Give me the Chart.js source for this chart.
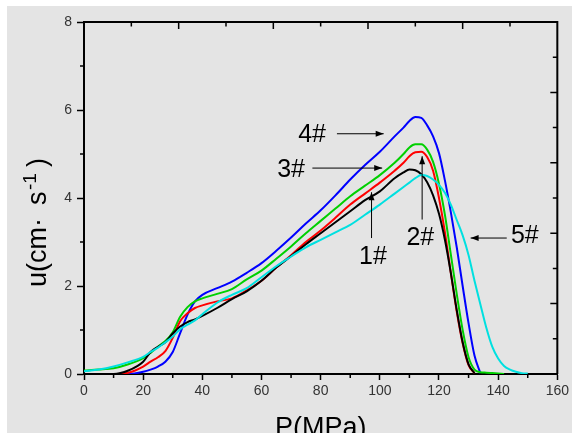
<!DOCTYPE html>
<html>
<head>
<meta charset="utf-8">
<script src="https://cdn.jsdelivr.net/npm/chart.js@4"></script>
<style>
  html, body { margin: 0; padding: 0; background: #fff; }
  #wrap { position: absolute; left: 7px; top: 6px; width: 565px; height: 427px; background: #e4e4e4; }
</style>
</head>
<body>
<div id="wrap"><canvas id="c" width="565" height="427"></canvas></div>
<script>
/* u vs P curves, samples 1# - 5# */
const pressure = [0,5,10,15,20,22.5,25,27.5,30,32.5,35,37.5,40,45,50,55,60,65,70,75,80,85,90,95,100,105,108,110,112,114,116,118,120,122,124,126,128,130,132,134,136,138,140,142,144,146,148,150];
const s1 = [0,0,0,0.08,0.28,0.5,0.62,0.72,0.92,1.08,1.18,1.24,1.32,1.5,1.7,1.88,2.12,2.42,2.68,2.95,3.2,3.45,3.7,3.95,4.15,4.45,4.58,4.65,4.63,4.54,4.36,4.06,3.64,3.05,2.3,1.45,0.72,0.22,0.02,null,null,null,null,null,null,null,null,null];
const s2 = [0,0,0,0.03,0.17,0.28,0.38,0.52,0.82,1.2,1.38,1.5,1.56,1.65,1.72,1.9,2.12,2.42,2.7,3.0,3.26,3.55,3.85,4.1,4.35,4.62,4.8,4.95,5.04,5.05,4.93,4.62,4.0,3.22,2.3,1.42,0.7,0.2,0.02,null,null,null,null,null,null,null,null,null];
const s3 = [0.08,0.1,0.13,0.22,0.36,0.48,0.62,0.75,0.95,1.3,1.52,1.65,1.72,1.82,1.93,2.15,2.35,2.62,2.9,3.2,3.48,3.76,4.04,4.28,4.52,4.8,5.0,5.15,5.22,5.22,5.1,4.82,4.32,3.62,2.72,1.82,1.0,0.38,0.1,0.04,0.03,0.02,0.01,0,null,null,null,null];
const s4 = [0,0,0,0,0.05,0.1,0.17,0.28,0.5,0.93,1.35,1.65,1.8,1.95,2.1,2.3,2.52,2.8,3.1,3.42,3.72,4.06,4.42,4.75,5.05,5.4,5.6,5.75,5.84,5.82,5.65,5.4,5.02,4.4,3.68,2.88,2.0,1.15,0.42,0.02,null,null,null,null,null,null,null,null];
const s5 = [0.06,0.1,0.17,0.27,0.39,0.5,0.6,0.72,0.85,1.02,1.12,1.22,1.36,1.62,1.8,1.95,2.2,2.45,2.67,2.88,3.05,3.22,3.39,3.62,3.85,4.1,4.25,4.35,4.45,4.52,4.5,4.42,4.3,4.12,3.85,3.5,3.15,2.7,2.12,1.58,1.05,0.62,0.35,0.18,0.1,0.05,0.02,0.01];

const xMinor = [10,30,50,70,90,110,130,150];
const yMinor = [1,3,5,7];
const topTicks = [16,32,48,64,80,96,112,128,144];
const rightTicks = [0.8,1.6,2.4,3.2,4.0,4.8,5.6,6.4,7.2];

// label text, text centre, arrow from -> to (data units)
const notes = [
  { t: '1#', tx: 97.7, ty: 2.65, x1: 97.2, y1: 3.09, x2: 97.2, y2: 4.13 },
  { t: '2#', tx: 113.7, ty: 3.09, x1: 114.3, y1: 3.51, x2: 114.3, y2: 4.95 },
  { t: '3#', tx: 70.0, ty: 4.63, x1: 77.2, y1: 4.68, x2: 100.8, y2: 4.68 },
  { t: '4#', tx: 77.1, ty: 5.44, x1: 85.5, y1: 5.46, x2: 101.3, y2: 5.46 },
  { t: '5#', tx: 149.0, ty: 3.13, x1: 142.9, y1: 3.09, x2: 130.7, y2: 3.09 }
];

const FONT = "'Liberation Sans', Arial, sans-serif";
const pts = s => pressure.map((p, i) => ({ x: p, y: s[i] })).filter(d => d.y !== null);

function line(label, s, color) {
  return { label, data: pts(s), borderColor: color, borderWidth: 2, pointRadius: 0,
           fill: false, tension: 0.4, cubicInterpolationMode: 'monotone' };
}

function arrow(ctx, x1, y1, x2, y2) {
  ctx.beginPath(); ctx.moveTo(x1, y1); ctx.lineTo(x2, y2); ctx.stroke();
  const a = Math.atan2(y2 - y1, x2 - x1);
  ctx.beginPath();
  ctx.moveTo(x2, y2);
  ctx.lineTo(x2 - 8 * Math.cos(a) + 3 * Math.sin(a), y2 - 8 * Math.sin(a) - 3 * Math.cos(a));
  ctx.lineTo(x2 - 8 * Math.cos(a) - 3 * Math.sin(a), y2 - 8 * Math.sin(a) + 3 * Math.cos(a));
  ctx.closePath(); ctx.fill();
}

const extras = {
  id: 'extras',
  afterDraw(chart) {
    const ctx = chart.ctx, xs = chart.scales.x, ys = chart.scales.y, a = chart.chartArea;
    ctx.save();
    ctx.strokeStyle = '#000'; ctx.fillStyle = '#000';
    // frame top/right
    ctx.lineWidth = 2;
    ctx.beginPath();
    ctx.moveTo(a.left, a.top); ctx.lineTo(a.right, a.top); ctx.lineTo(a.right, a.bottom);
    ctx.stroke();
    ctx.lineWidth = 1.5;
    ctx.beginPath();
    xMinor.forEach(v => { const px = xs.getPixelForValue(v); ctx.moveTo(px, a.bottom); ctx.lineTo(px, a.bottom + 4); });
    yMinor.forEach(v => { const py = ys.getPixelForValue(v); ctx.moveTo(a.left, py); ctx.lineTo(a.left - 4, py); });
    topTicks.forEach((v, i) => { const px = xs.getPixelForValue(v); ctx.moveTo(px, a.top); ctx.lineTo(px, a.top + (i % 2 ? 7 : 4.5)); });
    rightTicks.forEach((v, i) => { const py = ys.getPixelForValue(v); ctx.moveTo(a.right, py); ctx.lineTo(a.right - (i % 2 ? 7 : 4.5), py); });
    ctx.stroke();

    // annotations
    ctx.lineWidth = 1;
    ctx.font = '25px ' + FONT;
    ctx.textAlign = 'center'; ctx.textBaseline = 'middle';
    notes.forEach(n => {
      ctx.fillText(n.t, xs.getPixelForValue(n.tx), ys.getPixelForValue(n.ty));
      arrow(ctx, xs.getPixelForValue(n.x1), ys.getPixelForValue(n.y1), xs.getPixelForValue(n.x2), ys.getPixelForValue(n.y2));
    });

    // x title
    ctx.font = '27px ' + FONT;
    ctx.textAlign = 'center'; ctx.textBaseline = 'alphabetic';
    ctx.fillText('P(MPa)', (a.left + a.right) / 2, 429.5);

    // y title, rotated, with superscript
    ctx.translate(39, 281);
    ctx.rotate(-Math.PI / 2);
    ctx.textAlign = 'left';
    ctx.font = '27px ' + FONT;
    ctx.fillText('u(cm·', 0, 0);
    ctx.fillText('s', 82, 0);
    ctx.font = '19px ' + FONT;
    ctx.fillText('-1', 97, -10);
    ctx.font = '27px ' + FONT;
    ctx.fillText(')', 120, 0);
    ctx.restore();
  }
};

new Chart(document.getElementById('c'), {
  type: 'line',
  data: {
    datasets: [
      line('5#', s5, '#00e0e0'),
      line('1#', s1, '#000000'),
      line('2#', s2, '#ff0000'),
      line('3#', s3, '#00d000'),
      line('4#', s4, '#0000ff')
    ]
  },
  options: {
    responsive: false,
    animation: false,
    layout: { padding: { left: 0, right: 13, top: 16, bottom: 0 } },
    plugins: { legend: { display: false }, tooltip: { enabled: false } },
    scales: {
      x: {
        type: 'linear', min: 0, max: 160,
        afterFit: s => { s.height = 59; },
        ticks: { stepSize: 20, font: { family: FONT, size: 14 }, color: '#333', padding: 3, maxRotation: 0 },
        grid: { drawOnChartArea: false, drawTicks: true, tickLength: 6, tickColor: '#000', tickWidth: 1.5 },
        border: { display: true, color: '#000', width: 2 }
      },
      y: {
        min: 0, max: 8,
        afterFit: s => { s.width = 77; },
        ticks: { stepSize: 2, font: { family: FONT, size: 14 }, color: '#333', padding: 5 },
        grid: { drawOnChartArea: false, drawTicks: true, tickLength: 7, tickColor: '#000', tickWidth: 1.5 },
        border: { display: true, color: '#000', width: 2 }
      }
    }
  },
  plugins: [extras]
});
</script>
</body>
</html>
